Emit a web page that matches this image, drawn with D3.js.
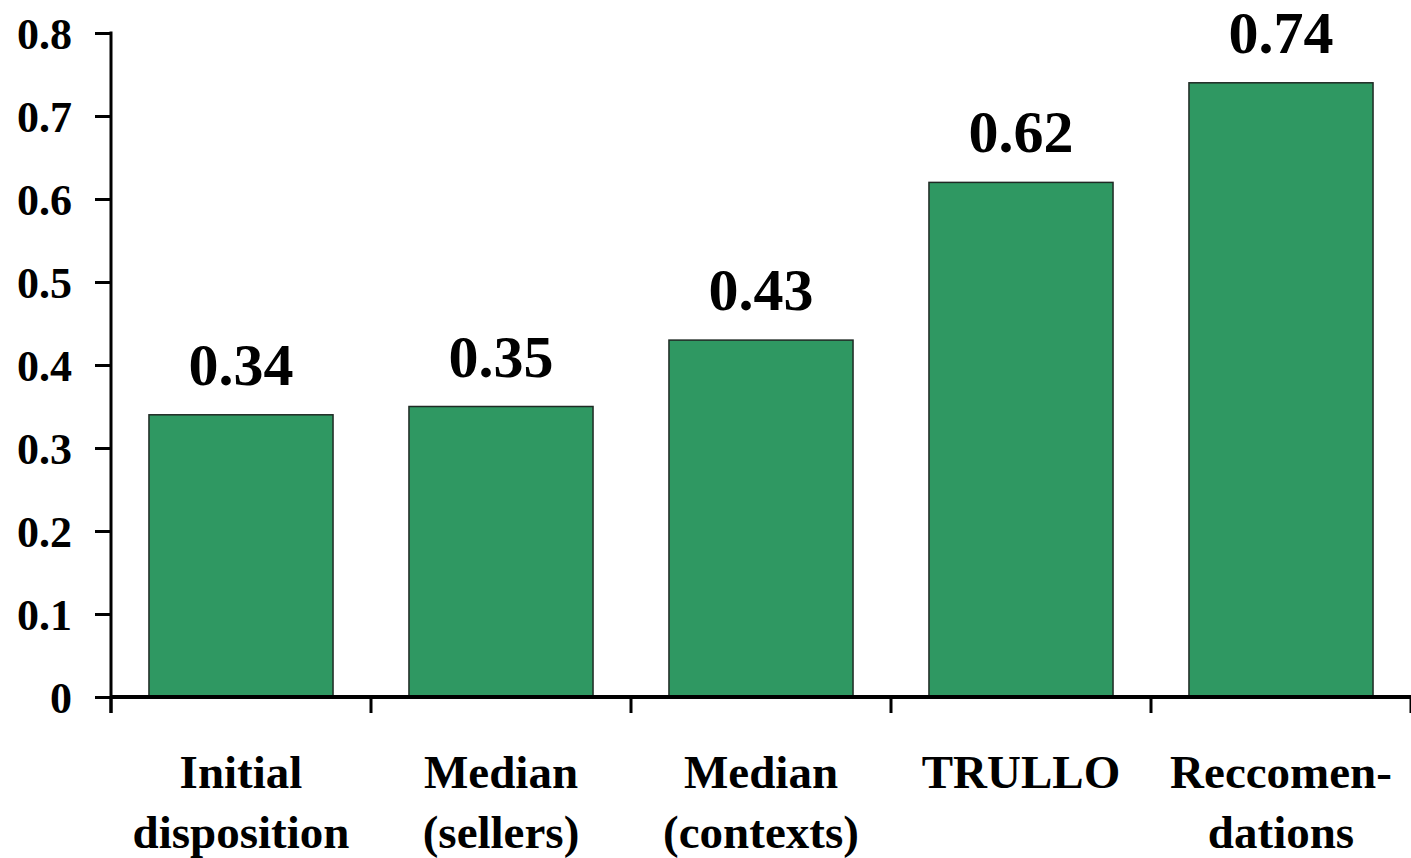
<!DOCTYPE html>
<html>
<head>
<meta charset="utf-8">
<script src="https://cdn.jsdelivr.net/npm/d3@7"></script>
<style>
  html, body { margin: 0; padding: 0; background: #fff; }
  svg { display: block; }
  text { font-family: "Liberation Serif", "Times New Roman", serif; font-weight: bold; fill: #000; }
</style>
</head>
<body>
<svg id="chart" width="1411" height="858"></svg>
<script>
// Category labels (two lines each) and their scores
const categories = ["Initial disposition", "Median (sellers)", "Median (contexts)", "TRULLO", "Reccomendations"];
const labelLines = [["Initial", "disposition"], ["Median", "(sellers)"], ["Median", "(contexts)"], ["TRULLO"], ["Reccomen-", "dations"]];
const values = [0.34, 0.35, 0.43, 0.62, 0.74];
const yTicks = [0, 0.1, 0.2, 0.3, 0.4, 0.5, 0.6, 0.7, 0.8];

const svg = d3.select("#chart");
const plotLeft = 111, plotRight = 1411, plotTop = 33, plotBottom = 697;

const x = d3.scaleBand()
  .domain(categories)
  .range([plotLeft, plotRight])
  .paddingInner(0.292)
  .paddingOuter(0.146);

const y = d3.scaleLinear().domain([0, 0.8]).range([plotBottom, plotTop]);

// Bars
svg.append("g").selectAll("rect")
  .data(values)
  .join("rect")
  .attr("x", (d, i) => x(categories[i]))
  .attr("y", d => y(d))
  .attr("width", x.bandwidth())
  .attr("height", d => y(0) - y(d))
  .attr("fill", "#2f9862")
  .attr("stroke", "#1f2a24")
  .attr("stroke-width", 1.5);

// Value labels above bars
svg.append("g").selectAll("text")
  .data(values)
  .join("text")
  .attr("x", (d, i) => x(categories[i]) + x.bandwidth() / 2)
  .attr("y", d => y(d) - 30)
  .attr("text-anchor", "middle")
  .style("font-size", "60px")
  .text(d => d3.format(".2f")(d));

// Y axis
const yAxis = d3.axisLeft(y)
  .tickValues(yTicks)
  .tickSize(16)
  .tickPadding(23)
  .tickFormat(d => d === 0 ? "0" : d3.format(".1f")(d));

const gy = svg.append("g")
  .attr("transform", `translate(${plotLeft},0)`)
  .call(yAxis);
gy.select(".domain").remove();
gy.selectAll(".tick line").attr("stroke", "#000").attr("stroke-width", 3);
gy.selectAll(".tick text")
  .style("font-size", "44px")
  .attr("dy", "0.36em");

// Y axis line, running a little below the baseline
svg.append("line")
  .attr("x1", plotLeft).attr("x2", plotLeft)
  .attr("y1", y(0.8) - 1.5).attr("y2", plotBottom + 16)
  .attr("stroke", "#000").attr("stroke-width", 3);

// X axis line
svg.append("line")
  .attr("x1", plotLeft).attr("x2", plotRight)
  .attr("y1", plotBottom).attr("y2", plotBottom)
  .attr("stroke", "#000").attr("stroke-width", 4);

// X ticks at category boundaries
const half = (x.step() - x.bandwidth()) / 2;
const bounds = categories.map(c => x(c) - half).concat([x(categories[categories.length - 1]) + x.bandwidth() + half]);
svg.append("g").selectAll("line")
  .data(bounds)
  .join("line")
  .attr("x1", d => d).attr("x2", d => d)
  .attr("y1", plotBottom).attr("y2", plotBottom + 16)
  .attr("stroke", "#000").attr("stroke-width", 3);

// Category labels
const catG = svg.append("g");
labelLines.forEach((lines, i) => {
  const cx = x(categories[i]) + x.bandwidth() / 2;
  const t = catG.append("text")
    .attr("x", cx)
    .attr("y", 788)
    .attr("text-anchor", "middle")
    .style("font-size", "47px");
  lines.forEach((ln, j) => {
    t.append("tspan").attr("x", cx).attr("dy", j === 0 ? 0 : 60).text(ln);
  });
});
</script>
</body>
</html>
